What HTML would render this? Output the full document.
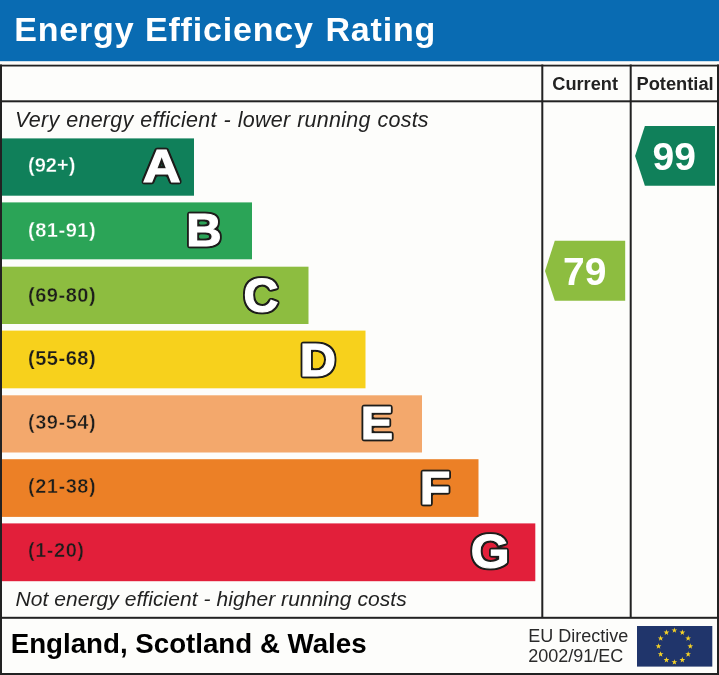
<!DOCTYPE html>
<html>
<head>
<meta charset="utf-8">
<title>Energy Efficiency Rating</title>
<style>
html,body{margin:0;padding:0;background:#fdfdfb;}
svg{display:block}
text{font-family:"Liberation Sans",Arial,Helvetica,sans-serif;}
.b{font-weight:bold}
.i{font-style:italic;fill:#222}
.L{font-weight:bold;font-size:47px;fill:#fff;stroke:#fff;stroke-width:1.2px;stroke-linejoin:miter;filter:url(#ol)}
.r{font-weight:bold;font-size:20px}
</style>
</head>
<body>
<svg width="719" height="675" viewBox="0 0 719 675">
<filter id="ol" x="-20%" y="-20%" width="140%" height="140%" color-interpolation-filters="sRGB">
<feMorphology in="SourceAlpha" operator="dilate" radius="1" result="dl"/>
<feGaussianBlur in="dl" stdDeviation="1" result="bl"/>
<feComponentTransfer in="bl" result="th"><feFuncA type="linear" slope="4.5" intercept="-0.63"/></feComponentTransfer>
<feFlood flood-color="#1d1d1b" result="fc"/>
<feComposite in="fc" in2="th" operator="in" result="oc"/>
<feMerge><feMergeNode in="oc"/><feMergeNode in="SourceGraphic"/></feMerge>
</filter>
<rect x="0" y="0" width="719" height="675" fill="#fdfdfb"/>
<!-- header -->
<rect x="0" y="0" width="719" height="61.2" fill="#096bb2"/>
<text class="b" y="40.8" font-size="34" fill="#fff" style="letter-spacing:0.8px"><tspan x="14.3">Energy</tspan> <tspan x="145">Efficiency</tspan> <tspan x="325.5">Rating</tspan></text>
<!-- frame -->
<g fill="#222">
<rect x="0" y="64.7" width="719" height="1.8"/>
<rect x="0" y="64.5" width="2" height="610.5"/>
<rect x="717" y="64.5" width="2" height="610.5"/>
<rect x="0" y="673" width="719" height="2"/>
<rect x="0" y="100.3" width="719" height="2"/>
<rect x="0" y="616.8" width="719" height="2"/>
<rect x="541.3" y="64.5" width="2" height="553"/>
<rect x="629.7" y="64.5" width="2" height="553"/>
</g>
<text class="b" x="552.3" y="90.2" font-size="18.2" fill="#222">Current</text>
<text class="b" x="636.5" y="90.2" font-size="18.3" fill="#222">Potential</text>
<text class="i" x="15" y="126.5" font-size="21.5" style="word-spacing:0.6px;letter-spacing:0.25px">Very energy efficient - lower running costs</text>
<text class="i" x="15.5" y="606" font-size="21" style="letter-spacing:0.06px">Not energy efficient - higher running costs</text>
<!-- bars -->
<rect x="2" y="138.4" width="192" height="57.3" fill="#10805a"/>
<rect x="2" y="202.4" width="250" height="56.9" fill="#2ba457"/>
<rect x="2" y="266.7" width="306.5" height="57.3" fill="#8dbd40"/>
<rect x="2" y="330.6" width="363.5" height="57.7" fill="#f7d11c"/>
<rect x="2" y="395.3" width="420" height="57.2" fill="#f3a86c"/>
<rect x="2" y="459.2" width="476.5" height="57.7" fill="#ec8026"/>
<rect x="2" y="523.4" width="533.3" height="57.8" fill="#e21f3a"/>
<text class="r" x="28" y="172.2" fill="#fff" stroke="#10805a" stroke-width="0.3" textLength="47.4" lengthAdjust="spacing">(92+)</text>
<text class="r" x="28" y="236.7" fill="#fff" stroke="#2ba457" stroke-width="0.3" textLength="67.6" lengthAdjust="spacing">(81-91)</text>
<text class="r" x="28" y="301.7" fill="#1d1d1b" stroke="#8dbd40" stroke-width="0.35" textLength="67.6" lengthAdjust="spacing">(69-80)</text>
<text class="r" x="28" y="364.7" fill="#1d1d1b" stroke="#f7d11c" stroke-width="0.25" textLength="67.6" lengthAdjust="spacing">(55-68)</text>
<text class="r" x="28" y="429" fill="#1d1d1b" stroke="#f3a86c" stroke-width="0.5" textLength="67.6" lengthAdjust="spacing">(39-54)</text>
<text class="r" x="28" y="493.4" fill="#1d1d1b" stroke="#ec8026" stroke-width="0.5" textLength="67.6" lengthAdjust="spacing">(21-38)</text>
<text class="r" x="28" y="557.4" fill="#1d1d1b" stroke="#e21f3a" stroke-width="0.5" textLength="56.0" lengthAdjust="spacing">(1-20)</text>
<text class="L" transform="translate(142.8,181.5) scale(1.115,1)">A</text>
<text class="L" transform="translate(186.3,246.2) scale(1.040,1)">B</text>
<text class="L" transform="translate(243.6,312.1) scale(1.030,1.04)">C</text>
<text class="L" transform="translate(299.7,376.1) scale(1.070,1)">D</text>
<text class="L" transform="translate(360.7,438.5) scale(1.030,1)">E</text>
<text class="L" transform="translate(419.8,503.6) scale(1.065,1)">F</text>
<text class="L" transform="translate(470.8,568.3) scale(1.060,1.03)">G</text>
<!-- arrows -->
<polygon points="635.1,156 644.9,126 715,126 715,185.7 644.9,185.7" fill="#10805a"/>
<text class="b" x="652.6" y="169.6" font-size="39" fill="#fff">99</text>
<polygon points="545,271 554.8,240.8 625.2,240.8 625.2,300.8 554.8,300.8" fill="#8dbd40"/>
<text class="b" x="563" y="284.5" font-size="39" fill="#fff">79</text>
<!-- footer -->
<text class="b" x="10.7" y="653.4" font-size="27.7" fill="#000">England, Scotland &amp; Wales</text>
<text x="528.3" y="642.2" font-size="18" fill="#2a2a2a">EU Directive</text>
<text x="528.3" y="662.2" font-size="18" fill="#2a2a2a">2002/91/EC</text>
<rect x="637" y="626" width="75.3" height="40.6" fill="#20356b"/>
<g fill="#f6d327">
<polygon points="674.4,627.4 675.1,629.4 677.3,629.5 675.5,630.8 676.2,632.8 674.4,631.6 672.6,632.8 673.3,630.8 671.5,629.5 673.7,629.4"/>
<polygon points="682.4,629.5 683.1,631.6 685.2,631.6 683.5,632.9 684.1,635.0 682.4,633.7 680.6,635.0 681.2,632.9 679.5,631.6 681.6,631.6"/>
<polygon points="688.2,635.3 688.9,637.4 691.0,637.4 689.3,638.7 689.9,640.8 688.2,639.5 686.4,640.8 687.0,638.7 685.3,637.4 687.5,637.4"/>
<polygon points="690.3,643.3 691.0,645.3 693.2,645.4 691.4,646.7 692.1,648.7 690.3,647.5 688.5,648.7 689.2,646.7 687.4,645.4 689.6,645.3"/>
<polygon points="688.2,651.2 688.9,653.3 691.0,653.3 689.3,654.6 689.9,656.7 688.2,655.5 686.4,656.7 687.0,654.6 685.3,653.3 687.5,653.3"/>
<polygon points="682.4,657.1 683.1,659.1 685.2,659.1 683.5,660.4 684.1,662.5 682.4,661.3 680.6,662.5 681.2,660.4 679.5,659.1 681.6,659.1"/>
<polygon points="674.4,659.2 675.1,661.2 677.3,661.3 675.5,662.6 676.2,664.6 674.4,663.4 672.6,664.6 673.3,662.6 671.5,661.3 673.7,661.2"/>
<polygon points="666.4,657.1 667.2,659.1 669.3,659.1 667.6,660.4 668.2,662.5 666.4,661.3 664.7,662.5 665.3,660.4 663.6,659.1 665.7,659.1"/>
<polygon points="660.6,651.2 661.3,653.3 663.5,653.3 661.8,654.6 662.4,656.7 660.6,655.5 658.9,656.7 659.5,654.6 657.8,653.3 659.9,653.3"/>
<polygon points="658.5,643.3 659.2,645.3 661.4,645.4 659.6,646.7 660.3,648.7 658.5,647.5 656.7,648.7 657.4,646.7 655.6,645.4 657.8,645.3"/>
<polygon points="660.6,635.3 661.3,637.4 663.5,637.4 661.8,638.7 662.4,640.8 660.6,639.5 658.9,640.8 659.5,638.7 657.8,637.4 659.9,637.4"/>
<polygon points="666.4,629.5 667.2,631.6 669.3,631.6 667.6,632.9 668.2,635.0 666.4,633.7 664.7,635.0 665.3,632.9 663.6,631.6 665.7,631.6"/>
</g>
</svg>
</body>
</html>
